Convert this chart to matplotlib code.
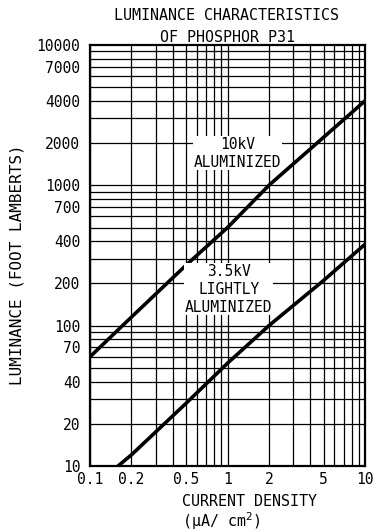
import matplotlib.pyplot as plt
import numpy as np

plt.rcParams["font.family"] = "DejaVu Sans Mono"

# values (current density in uA/cm2, luminance in foot lamberts)
x_10kv = np.array([0.1, 0.2, 0.5, 1, 2, 5, 10])
y_10kv = np.array([60, 115, 270, 500, 1000, 2200, 4000])
x_35kv = np.array([0.16, 0.2, 0.5, 1, 2, 5, 10])
y_35kv = np.array([10, 12, 28, 54, 100, 210, 380])

xticks = [0.1, 0.2, 0.5, 1, 2, 5, 10]
xlabels = ["0.1", "0.2", "0.5", "1", "2", "5", "10"]
yticks = [10, 20, 40, 70, 100, 200, 400, 700, 1000, 2000, 4000, 7000, 10000]
ylabels = ["10", "20", "40", "70", "100", "200", "400", "700", "1000", "2000", "4000", "7000", "10000"]

fig = plt.figure(figsize=(3.8, 5.32), dpi=100)
ax = fig.add_axes([90/380, 1-466/532, 275/380, 421/532])
ax.set_xscale("log")
ax.set_yscale("log")
ax.set_xlim(0.1, 10)
ax.set_ylim(10, 10000)

# log grid: every 1..9 step in each decade
for dec in [0.1, 1]:
    for k in range(1, 10):
        ax.axvline(dec*k, color="k", lw=0.9, zorder=1)
for dec in [10, 100, 1000]:
    for k in range(1, 10):
        ax.axhline(dec*k, color="k", lw=0.9, zorder=1)

ax.plot(x_10kv, y_10kv, color="k", lw=2.6, zorder=3)
ax.plot(x_35kv, y_35kv, color="k", lw=2.6, zorder=3)

ax.text(0.538, 0.743, "10kV\nALUMINIZED", transform=ax.transAxes, ha="center", va="center",
        fontsize=10.5, linespacing=1.25, zorder=4,
        bbox=dict(facecolor="white", edgecolor="none", pad=0.5))
ax.text(0.505, 0.42, "3.5kV\nLIGHTLY\nALUMINIZED", transform=ax.transAxes, ha="center", va="center",
        fontsize=10.5, linespacing=1.25, zorder=4,
        bbox=dict(facecolor="white", edgecolor="none", pad=0.5))

ax.set_xticks(xticks)
ax.set_xticklabels(xlabels, fontsize=10.5)
ax.set_yticks(yticks)
ax.set_yticklabels(ylabels, fontsize=10.5)
ax.minorticks_off()
ax.tick_params(length=0)
ax.tick_params(axis="x", pad=4)
ax.tick_params(axis="y", pad=7)
for s in ax.spines.values():
    s.set_linewidth(1.6)

fig.text(227/380, 1-15/532, "LUMINANCE CHARACTERISTICS", ha="center", va="center", fontsize=10.8)
fig.text(227/380, 1-37/532, "OF PHOSPHOR P31", ha="center", va="center", fontsize=10.8)
fig.text(17/380, 1-265/532, "LUMINANCE (FOOT LAMBERTS)", ha="center", va="center", rotation=90, fontsize=11.5)
fig.text(182/380, 1-501/532, "CURRENT DENSITY", ha="left", va="center", fontsize=10.8)
fig.text(182/380, 1-527/532, r"(μA/ cm$^2$)", ha="left", va="baseline", fontsize=10.8)

fig.savefig("out.png", dpi=100)
